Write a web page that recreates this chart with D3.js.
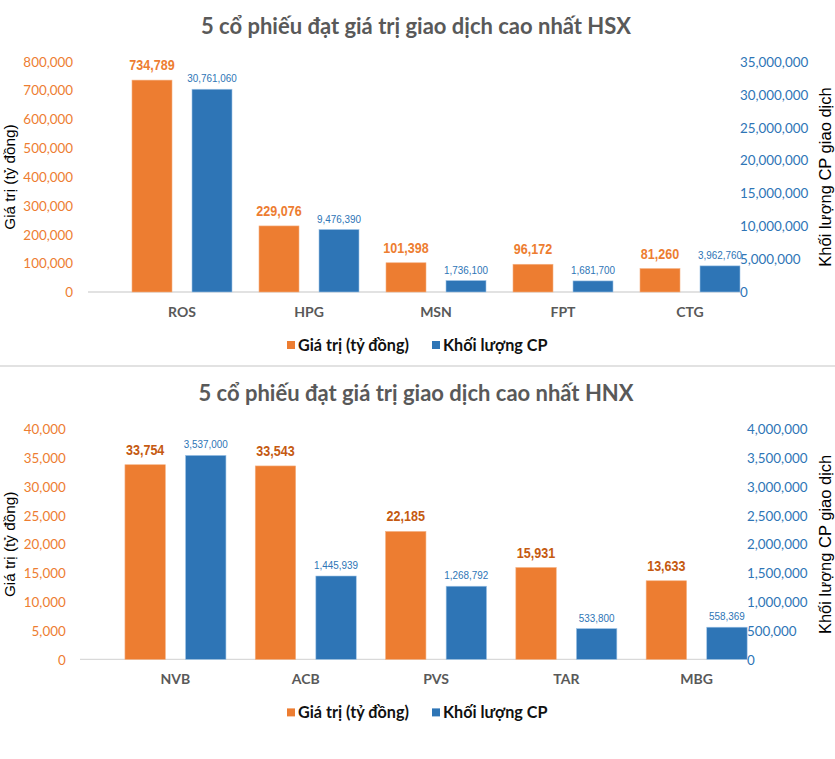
<!DOCTYPE html>
<html><head><meta charset="utf-8">
<script src="https://cdn.jsdelivr.net/npm/d3@7"></script>
<style>
html,body{margin:0;padding:0;background:#fff;}
svg{display:block;}
</style></head>
<body>
<svg id="c" width="835" height="759"></svg>
<script>
// ---- data ----
const hsxTitle = "5 cổ phiếu đạt giá trị giao dịch cao nhất HSX";
const hsxCategories = ["ROS", "HPG", "MSN", "FPT", "CTG"];
const hsxValue = [734789, 229076, 101398, 96172, 81260];
const hsxVolume = [30761060, 9476390, 1736100, 1681700, 3962760];
const hsxLeftTicks = [0, 100000, 200000, 300000, 400000, 500000, 600000, 700000, 800000];
const hsxRightTicks = [0, 5000000, 10000000, 15000000, 20000000, 25000000, 30000000, 35000000];

const hnxTitle = "5 cổ phiếu đạt giá trị giao dịch cao nhất HNX";
const hnxCategories = ["NVB", "ACB", "PVS", "TAR", "MBG"];
const hnxValue = [33754, 33543, 22185, 15931, 13633];
const hnxVolume = [3537000, 1445939, 1268792, 533800, 558369];
const hnxLeftTicks = [0, 5000, 10000, 15000, 20000, 25000, 30000, 35000, 40000];
const hnxRightTicks = [0, 500000, 1000000, 1500000, 2000000, 2500000, 3000000, 3500000, 4000000];

const seriesNames = ["Giá trị (tỷ đồng)", "Khối lượng CP"];
const leftAxisTitle = "Giá trị (tỷ đồng)";
const rightAxisTitle = "Khối lượng CP giao dịch";

// ---- styles ----
const ORANGE = "#ED7D31", BLUE = "#2E75B6";
const fmt = d3.format(",");
const svg = d3.select("#c");
const CAL = "Lato, 'Open Sans', sans-serif";
const ARIAL = "'Liberation Sans', Arial, sans-serif";

function drawChart(o) {
  const g = svg.append("g").attr("transform", `translate(0,${o.dy})`);
  const yL = d3.scaleLinear().domain([0, d3.max(o.leftTicks)]).range([292, 61.3]);
  const yR = d3.scaleLinear().domain([0, d3.max(o.rightTicks)]).range([292, 61.3]);
  const x = d3.scaleBand().domain(o.categories).range(o.xRange).paddingInner(0).paddingOuter(0);
  const groupW = o.groupW;
  const xs = d3.scaleBand().domain(["v", "q"]).range([0, groupW]).paddingInner(1/3);

  // title
  g.append("text").attr("x", 416).attr("y", 34).attr("text-anchor", "middle")
    .attr("font-family", CAL).attr("font-weight", 700).attr("font-size", 22)
    .attr("fill", "#595959").text(o.title);

  // baseline
  g.append("line").attr("x1", o.baseX[0]).attr("x2", o.baseX[1])
    .attr("y1", yL(0)).attr("y2", yL(0)).attr("stroke", "#D9D9D9").attr("stroke-width", 1.3);

  // left axis
  const la = g.append("g").attr("transform", `translate(${o.leftX},0)`)
    .call(d3.axisLeft(yL).tickValues(o.leftTicks).tickFormat(fmt).tickSize(0).tickPadding(0));
  la.select(".domain").remove();
  la.selectAll("text").attr("font-family", CAL).attr("font-size", 13.4).attr("fill", ORANGE).attr("dy", "0.36em");

  // right axis
  const ra = g.append("g").attr("transform", `translate(${o.rightX},0)`)
    .call(d3.axisRight(yR).tickValues(o.rightTicks).tickFormat(fmt).tickSize(0).tickPadding(0));
  ra.select(".domain").remove();
  ra.selectAll("text").attr("font-family", CAL).attr("font-size", 13.4).attr("fill", BLUE).attr("dy", "0.36em");

  // axis titles
  g.append("text").attr("transform", `translate(15,177) rotate(-90)`).attr("text-anchor", "middle")
    .attr("font-family", ARIAL).attr("font-size", 15.3).attr("fill", "#000").text(leftAxisTitle);
  g.append("text").attr("transform", `translate(831,177) rotate(-90)`).attr("text-anchor", "middle")
    .attr("font-family", ARIAL).attr("font-size", 16.5).attr("fill", "#000").text(rightAxisTitle);

  const off = (x.bandwidth() - groupW) / 2;
  const rows = o.categories.map((c, i) => ({c, v: o.value[i], q: o.volume[i]}));

  // bars
  const cg = g.selectAll(".cat").data(rows).join("g")
    .attr("transform", d => `translate(${x(d.c) + off},0)`);
  cg.append("rect").attr("x", xs("v")).attr("width", xs.bandwidth())
    .attr("y", d => yL(d.v)).attr("height", d => yL(0) - yL(d.v))
    .attr("fill", ORANGE).attr("stroke", "#F4B183").attr("stroke-width", 0.6);
  cg.append("rect").attr("x", xs("q")).attr("width", xs.bandwidth())
    .attr("y", d => yR(d.q)).attr("height", d => yR(0) - yR(d.q))
    .attr("fill", BLUE).attr("stroke", "#9DC3E6").attr("stroke-width", 0.6);

  // data labels (condensed)
  cg.append("text")
    .attr("transform", d => `translate(${xs("v") + xs.bandwidth() / 2},${yL(d.v) - 10}) scale(0.81,1)`)
    .attr("text-anchor", "middle").attr("font-family", ARIAL).attr("font-weight", 700)
    .attr("font-size", 15.5).attr("fill", o.valueLabelColor).text(d => fmt(d.v));
  cg.append("text")
    .attr("transform", d => `translate(${xs("q") + xs.bandwidth() / 2},${yR(d.q) - 7}) scale(0.84,1)`)
    .attr("text-anchor", "middle").attr("font-family", ARIAL)
    .attr("font-size", 11.8).attr("fill", BLUE).text(d => fmt(d.q));

  // category labels
  g.selectAll(".cl").data(o.categories).join("text")
    .attr("x", d => x(d) + x.bandwidth() / 2).attr("y", 317).attr("text-anchor", "middle")
    .attr("font-family", CAL).attr("font-weight", 700).attr("font-size", 14)
    .attr("fill", "#595959").text(d => d);

  // legend
  const lg = g.append("g");
  const items = [{n: seriesNames[0], c: ORANGE, x: 287}, {n: seriesNames[1], c: BLUE, x: 432}];
  items.forEach(it => {
    lg.append("rect").attr("x", it.x).attr("y", 341).attr("width", 8).attr("height", 8).attr("fill", it.c);
    lg.append("text").attr("x", it.x + 11).attr("y", 350.5).attr("font-family", CAL)
      .attr("font-weight", 700).attr("font-size", 16.2).attr("fill", "#111").text(it.n);
  });
}

drawChart({dy: 0, title: hsxTitle, categories: hsxCategories, value: hsxValue, volume: hsxVolume,
  leftTicks: hsxLeftTicks, rightTicks: hsxRightTicks, xRange: [118.5, 753.5], groupW: 100,
  baseX: [88, 741], leftX: 73, rightX: 740, valueLabelColor: ORANGE});

// separator
svg.append("line").attr("x1", 0).attr("x2", 835).attr("y1", 366).attr("y2", 366)
  .attr("stroke", "#D9D9D9").attr("stroke-width", 1.5);

drawChart({dy: 367.4, title: hnxTitle, categories: hnxCategories, value: hnxValue, volume: hnxVolume,
  leftTicks: hnxLeftTicks, rightTicks: hnxRightTicks, xRange: [110.3, 761.8], groupW: 101,
  baseX: [80, 748], leftX: 65.7, rightX: 747, valueLabelColor: "#C55A11"});
</script>
</body></html>
